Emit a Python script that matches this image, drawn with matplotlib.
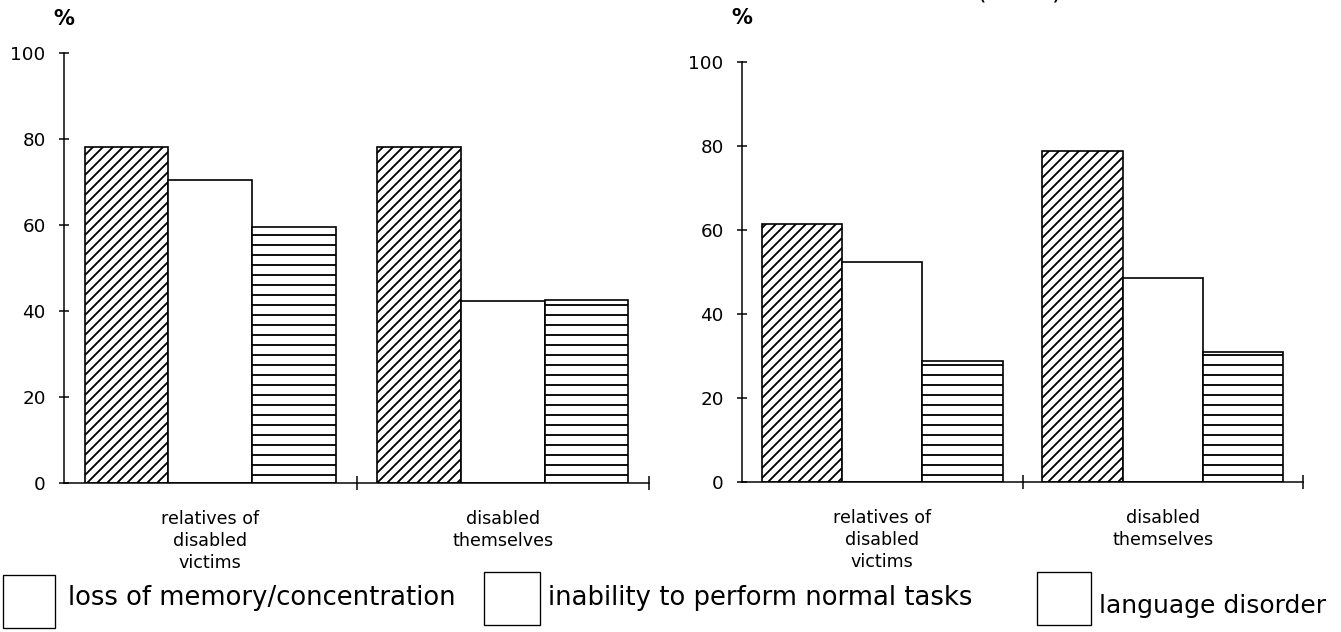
import numpy as np
import matplotlib
matplotlib.use("Agg")
import matplotlib.pyplot as plt
from matplotlib.patches import Rectangle

# данные
groups = ["relatives of\ndisabled\nvictims", "disabled\nthemselves"]
series = ["loss of memory/concentration",
          "inability to perform normal tasks",
          "language disorder"]

left_memory = [78.0, 78.2]
left_tasks = [70.5, 42.3]
left_language = [59.5, 42.5]

right_memory = [61.4, 78.8]
right_tasks = [52.4, 48.5]
right_language = [28.8, 31.0]

y_ticks = [0, 20, 40, 60, 80, 100]

DPI = 120
W, H = 1341, 632

plt.rcParams['font.family'] = ['DejaVu Sans']
plt.rcParams['hatch.linewidth'] = 1.1

hatches = ['////', '', '--']
bar_w = 0.286


def px_box(x0, y0, x1, y1):
    # пиксели (от верхнего левого угла) -> доли фигуры
    return [x0 / W, 1 - y1 / H, (x1 - x0) / W, (y1 - y0) / H]


def draw_panel(ax, values):
    centers = np.arange(len(groups)) + 0.5
    for i, vals in enumerate(values):
        ax.bar(centers + (i - 1) * bar_w, vals, width=bar_w,
               facecolor='white', edgecolor='black', linewidth=1.0,
               hatch=hatches[i])
    ax.set_xlim(0, len(groups))
    ax.set_ylim(0, 100)
    ax.spines['top'].set_visible(False)
    ax.spines['right'].set_visible(False)
    ax.spines['left'].set_linewidth(0.9)
    ax.spines['bottom'].set_linewidth(0.9)
    ax.set_yticks(y_ticks)
    ax.tick_params(axis='y', direction='inout', length=6, width=0.9,
                   labelsize=11, pad=8)
    ax.set_xticks([1, 2])
    ax.set_xticklabels([])
    ax.tick_params(axis='x', which='major', direction='inout', length=8,
                   width=0.9)
    ax.set_xticks(centers, minor=True)
    ax.set_xticklabels(groups, minor=True, fontsize=10.5, linespacing=1.3)
    ax.tick_params(axis='x', which='minor', length=0, pad=16)


fig = plt.figure(figsize=(W / DPI, H / DPI), dpi=DPI)

ax1 = fig.add_axes(px_box(64, 52.7, 649, 483))
draw_panel(ax1, [left_memory, left_tasks, left_language])

ax2 = fig.add_axes(px_box(742, 61.7, 1303, 482))
draw_panel(ax2, [right_memory, right_tasks, right_language])

# подписи осей
fig.text(64 / W, 1 - 19 / H, "%", ha='center', va='center',
         fontsize=12.5, fontweight='bold')
fig.text(742 / W, 1 - 18 / H, "%", ha='center', va='center',
         fontsize=12.5, fontweight='bold')

# обрезанный заголовок сверху (видны только низы скобок)
fig.text(982 / W, 1 + 1 / H, "(", ha='center', va='baseline', fontsize=15)
fig.text(1057 / W, 1 + 1 / H, ")", ha='center', va='baseline', fontsize=15)

# легенда: пустые рамки, как в оригинале
boxes = [(3, 575, 55, 628), (484, 572, 540, 625), (1037, 572, 1091, 625)]
text_pos = [(68, 605, 15.5), (548, 605, 15.5), (1099, 613, 15)]
for (x0, y0, x1, y1), (tx, ty, fs), name in zip(boxes, text_pos, series):
    b = px_box(x0, y0, x1, y1)
    fig.add_artist(Rectangle((b[0], b[1]), b[2], b[3],
                             transform=fig.transFigure, facecolor='white',
                             edgecolor='black', linewidth=0.8))
    fig.text(tx / W, 1 - ty / H, name, ha='left', va='baseline', fontsize=fs)

fig.savefig("out.png", dpi=DPI)
